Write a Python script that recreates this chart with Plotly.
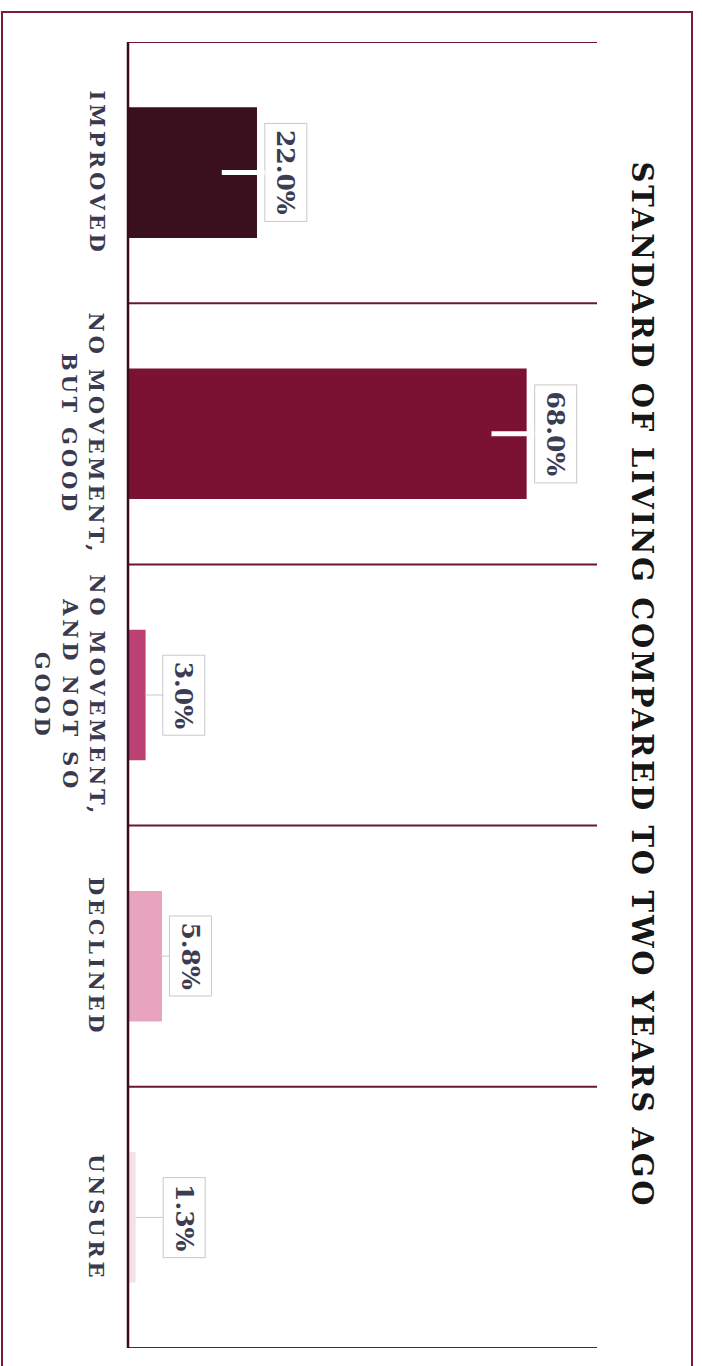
import plotly.graph_objects as go

categories = ["IMPROVED", "NO MOVEMENT,<br>BUT GOOD", "NO MOVEMENT,<br>AND NOT SO<br>GOOD", "DECLINED", "UNSURE"]
values = [22.0, 68.0, 3.0, 5.8, 1.3]
value_labels = ["22.0%", "68.0%", "3.0%", "5.8%", "1.3%"]
bar_colors = ["#3a0f1e", "#7b1232", "#bd4274", "#e8a3bf", "#f6e0e8"]
title_text = "STANDARD OF LIVING COMPARED TO TWO YEARS AGO"

W, H = 702, 1366
L, R, T, B = 128, 105, 42, 18
XMAX = 80
plot_w = W - L - R
plot_h = H - T - B

idx = list(range(len(categories)))

fig = go.Figure()
fig.add_trace(go.Bar(
    x=values, y=idx, orientation="h", width=0.5,
    marker=dict(color=bar_colors, line=dict(width=0)),
    hoverinfo="skip",
))

def px2paper_x(px):
    return (px - L) / plot_w

def px2paper_y(py):
    return (H - B - py) / plot_h

shapes = []
for i in range(len(categories) + 1):
    shapes.append(dict(type="line", xref="paper", yref="y", x0=0, x1=1,
                       y0=i - 0.5, y1=i - 0.5,
                       line=dict(color="#6a1534", width=2), layer="below"))
shapes.append(dict(type="line", xref="paper", yref="paper", x0=0, x1=0, y0=0, y1=1,
                   line=dict(color="#3a0a1e", width=2.5)))
shapes.append(dict(type="rect", xref="paper", yref="paper",
                   x0=px2paper_x(2), x1=px2paper_x(692),
                   y0=px2paper_y(1372), y1=px2paper_y(12),
                   line=dict(color="#7a1a3c", width=2), fillcolor="rgba(0,0,0,0)"))

annotations = []
for i, (v, lab) in enumerate(zip(values, value_labels)):
    big = v > 10
    tip = v - min(0.3 * v, 6) if big else v
    box = max(v + 4.9, 9.6)
    annotations.append(dict(
        x=tip, y=i, xref="x", yref="y", ax=box, ay=i, axref="x", ayref="y",
        text=lab, textangle=90, showarrow=True, arrowhead=0,
        arrowwidth=5 if big else 1,
        arrowcolor="#ffffff" if big else "#c9c9c9", standoff=0, startstandoff=0,
        font=dict(family="DejaVu Serif", size=25, color="#3c3c52", weight="bold"),
        bgcolor="#ffffff", bordercolor="#c9c9c9", borderwidth=1, borderpad=6,
    ))
for i, c in enumerate(categories):
    n = c.count("<br>") + 1
    cx = 97 - (n - 1) * 27 / 2
    annotations.append(dict(
        x=px2paper_x(cx), y=i, xref="paper", yref="y", text=c, textangle=90,
        showarrow=False, xanchor="center", yanchor="middle", align="center",
        font=dict(family="DejaVu Serif", size=21, color="#3a3a4e", weight="bold"),
    ))
annotations.append(dict(
    x=px2paper_x(642), y=px2paper_y(685), xref="paper", yref="paper",
    text=title_text, textangle=90, showarrow=False, xanchor="center", yanchor="middle",
    font=dict(family="DejaVu Serif", size=29, color="#161616", weight="bold"),
))

fig.update_layout(
    width=W, height=H, margin=dict(l=L, r=R, t=T, b=B),
    paper_bgcolor="#ffffff", plot_bgcolor="#ffffff",
    showlegend=False, shapes=shapes, annotations=annotations,
    xaxis=dict(range=[0, XMAX], showgrid=False, zeroline=False, showticklabels=False,
               showline=False, fixedrange=True),
    yaxis=dict(range=[len(categories) - 0.5, -0.5], showgrid=False, zeroline=False,
               showticklabels=False, showline=False, fixedrange=True),
)

post = """
document.body.style.margin = '0';
document.body.style.overflow = 'hidden';
var st = document.createElement('style');
st.textContent = '.annotation[data-index="5"] text, .annotation[data-index="6"] text, .annotation[data-index="7"] text, .annotation[data-index="8"] text, .annotation[data-index="9"] text {letter-spacing: 3.8px;} .annotation[data-index="10"] text {letter-spacing: 2.7px;}';
document.head.appendChild(st);
"""

fig.write_html("out.html", post_script=post, config={"displayModeBar": False})
